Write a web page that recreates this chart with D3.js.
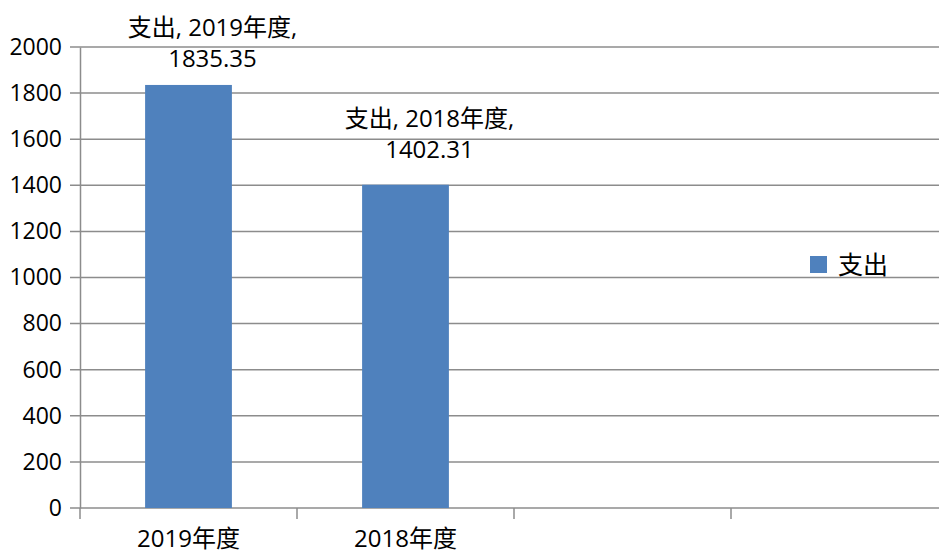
<!DOCTYPE html>
<html>
<head>
<meta charset="utf-8">
<script src="https://cdn.jsdelivr.net/npm/d3@7"></script>
<style>
  html, body { margin: 0; padding: 0; background: #fff; }
  svg { display: block; font-family: "Open Sans", "Noto Sans CJK SC", sans-serif; }
</style>
</head>
<body>
<div id="chart"></div>
<script>
// ------- data -------
const seriesName = "支出";
const categories = ["2019年度", "2018年度", "slot3", "slot4"];  // last two slots are empty
const values = [1835.35, 1402.31];
const yTicks = [0, 200, 400, 600, 800, 1000, 1200, 1400, 1600, 1800, 2000];

const width = 939, height = 553;
const margin = { top: 47, left: 80, bottom: 45 };
const GRID = "#8c8c8c";
const BAR = "#4f81bd";

const svg = d3.select("#chart").append("svg")
  .attr("width", width).attr("height", height);

const x = d3.scaleBand()
  .domain(categories)
  .range([margin.left, margin.left + 217 * 4])
  .paddingInner(0.6)
  .paddingOuter(0.3);

const y = d3.scaleLinear()
  .domain([0, 2000])
  .range([height - margin.bottom, margin.top]);

// gridlines
svg.append("g")
  .selectAll("line")
  .data(yTicks)
  .join("line")
  .attr("x1", margin.left - 10).attr("x2", width)
  .attr("y1", d => y(d)).attr("y2", d => y(d))
  .attr("stroke", GRID).attr("stroke-width", 1.5);

// y axis
const yAxis = svg.append("g")
  .attr("transform", `translate(${margin.left},0)`)
  .call(d3.axisLeft(y).tickValues(yTicks).tickFormat(d3.format("d")).tickSize(0).tickPadding(18));
yAxis.select(".domain").attr("stroke", GRID).attr("stroke-width", 1.5);
yAxis.selectAll("text")
  .attr("fill", "#000")
  .style("font-size", "23px")
  .style("font-family", "'Open Sans', 'Noto Sans CJK SC', sans-serif");

// x axis: ticks at band boundaries
const step = x.step();
const boundaries = d3.range(categories.length + 1).map(i => margin.left + i * step);
svg.append("g")
  .selectAll("line")
  .data(boundaries)
  .join("line")
  .attr("x1", d => d).attr("x2", d => d)
  .attr("y1", y(0)).attr("y2", y(0) + 11)
  .attr("stroke", GRID).attr("stroke-width", 1.5);

svg.append("g")
  .selectAll("text")
  .data(categories.slice(0, values.length))
  .join("text")
  .attr("x", d => x(d) + x.bandwidth() / 2)
  .attr("y", y(0) + 39)
  .attr("text-anchor", "middle")
  .style("font-size", "24px")
  .text(d => d);

// bars
svg.append("g")
  .selectAll("rect")
  .data(values)
  .join("rect")
  .attr("x", (d, i) => x(categories[i]))
  .attr("y", d => y(d))
  .attr("width", x.bandwidth())
  .attr("height", d => y(0) - y(d))
  .attr("fill", BAR);

// data labels
const lbl = svg.append("g")
  .selectAll("text")
  .data(values)
  .join("text")
  .attr("text-anchor", "middle")
  .style("font-size", "24px");
lbl.each(function(d, i) {
  const cx = x(categories[i]) + x.bandwidth() / 2 + 24;
  const base2 = Math.max(y(d) - 27, 67);
  const t = d3.select(this);
  t.append("tspan").attr("x", cx).attr("y", base2 - 31)
    .text(`${seriesName}, ${categories[i]},`);
  t.append("tspan").attr("x", cx).attr("y", base2)
    .text(d3.format(".2f")(d));
});

// legend
const lg = svg.append("g").attr("transform", "translate(810,256)");
lg.append("rect").attr("width", 17).attr("height", 17).attr("fill", BAR);
lg.append("text").attr("x", 28).attr("y", 18)
  .style("font-size", "25px")
  .text(seriesName);
</script>
</body>
</html>
